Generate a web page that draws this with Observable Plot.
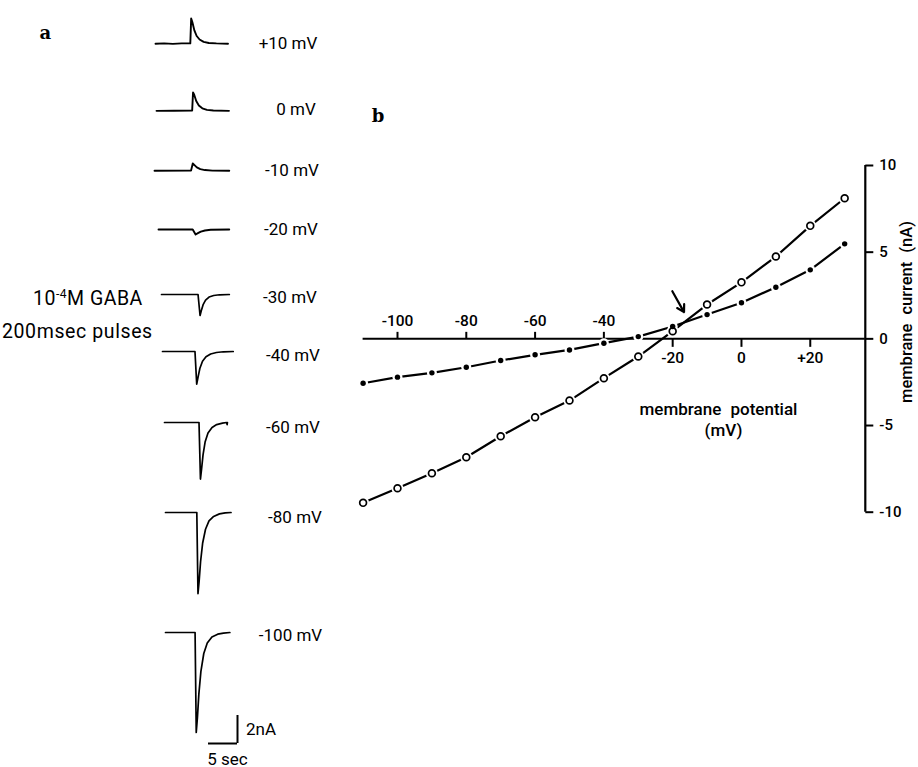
<!DOCTYPE html>
<html><head><meta charset="utf-8">
<script src="https://cdn.jsdelivr.net/npm/d3@7"></script>
<script src="https://cdn.jsdelivr.net/npm/@observablehq/plot@0.6"></script>
<style>
html,body{margin:0;padding:0;background:#fff;overflow:hidden}
#root{position:relative;width:918px;height:767px;background:#fff;font-family:Roboto,"DejaVu Sans",sans-serif;color:#000}
#root svg{position:absolute;max-width:none;background:transparent;overflow:visible}
.lbl{position:absolute;white-space:nowrap;line-height:1;font-size:17px}
.c{transform:translate(-50%,-50%)}
.l{transform:translate(0,-50%)}
.panel{font-family:"DejaVu Serif",serif;font-weight:bold;font-size:18px}
</style></head><body><div id="root"></div>
<script>
// ---------------- DATA ----------------
// panel b: I-V relation
const potential     = [-110, -100, -90, -80, -70, -60, -50, -40, -30, -20, -10, 0, 10, 20, 30];
const currentOpen   = [-9.46, -8.62, -7.75, -6.83, -5.62, -4.52, -3.56, -2.27, -1.02, 0.44, 1.98, 3.26, 4.75, 6.52, 8.11];
const currentFilled = [-2.56, -2.21, -1.96, -1.64, -1.25, -0.92, -0.64, -0.25, 0.13, 0.71, 1.40, 2.08, 2.98, 3.98, 5.48];
const xDomain = [-110, 36];
const yDomain = [-10, 10];
const xTicksAbove = [-100, -80, -60, -40];
const xTicksBelow = [-20, 0, 20];
const yTicks = [-10, -5, 0, 5, 10];
const arrowStart = {mV: -20.1, nA: 2.75};
const arrowEnd   = {mV: -16.7, nA: 1.54};
const xTitle = ["membrane potential", "(mV)"];
const yTitle = "membrane current (nA)";

// panel a: current traces [time s, current nA]
const traceLabels = ["+10 mV", "0 mV", "-10 mV", "-20 mV", "-30 mV", "-40 mV", "-60 mV", "-80 mV", "-100 mV"];
const traceP10  = [[0,0],[1.5,0.02],[3,-0.01],[4.5,0.02],[6.0,0.02],[6.15,1.8],[6.35,1.55],[6.7,0.95],[7.1,0.55],[7.6,0.3],[8.3,0.13],[9.2,0.05],[10.5,0.02],[12.5,0]];
const trace0    = [[0,0],[3,0.01],[6.15,0.02],[6.3,1.31],[6.5,1.15],[6.85,0.7],[7.3,0.38],[7.9,0.18],[8.7,0.07],[9.8,0.02],[12.5,0]];
const traceM10  = [[0,0],[6.3,0.01],[6.6,0.52],[6.9,0.4],[7.3,0.24],[7.9,0.12],[8.7,0.05],[10,0.01],[12.9,0]];
const traceM20  = [[0,0],[5.9,0],[6.4,-0.36],[6.8,-0.26],[7.3,-0.15],[8,-0.07],[9,-0.02],[12.2,0]];
const traceM30  = [[0,0],[6.3,0],[6.65,-1.5],[6.9,-1.1],[7.2,-0.7],[7.6,-0.4],[8.2,-0.18],[9,-0.07],[10,-0.02],[11.7,0]];
const traceM40  = [[0,0],[5.6,0],[5.9,-2.33],[6.15,-1.8],[6.45,-1.2],[6.9,-0.7],[7.5,-0.38],[8.3,-0.18],[9.3,-0.07],[10.5,-0.02],[12.2,0]];
const traceM60  = [[0,0],[5.95,0],[6.2,-4.04],[6.4,-3.3],[6.65,-2.3],[7,-1.4],[7.5,-0.75],[8.2,-0.35],[9,-0.15],[10,-0.05],[10.7,0],[10.8,-0.15],[10.85,0]];
const traceM80  = [[0,0],[5.4,0],[5.6,-5.79],[5.8,-4.9],[6.05,-3.5],[6.4,-2.2],[6.9,-1.2],[7.5,-0.6],[8.3,-0.28],[9.3,-0.1],[10.3,-0.03],[11.3,0]];
const traceM100 = [[0,0],[5.1,0],[5.3,-7.14],[5.5,-6.1],[5.75,-4.4],[6.1,-2.8],[6.6,-1.5],[7.2,-0.75],[8,-0.32],[9,-0.12],[10,-0.04],[11.1,0]];
const traces = [traceP10, trace0, traceM10, traceM20, traceM30, traceM40, traceM60, traceM80, traceM100];
const scaleBarSec = 5, scaleBarNA = 2;

// ---------------- LAYOUT ----------------
const layout = {
  traceLeft:     [155, 155.7, 154.3, 157.7, 160.7, 161.7, 164.3, 165, 165],
  traceBaseline: [43.3, 110, 170, 229, 294, 350.7, 421.7, 512.3, 631.7],
  labelX:        [288, 296, 292, 291, 290, 293, 293, 295, 290.5],
  labelY:        [42.5, 108.5, 170, 228.5, 297, 355, 426.7, 516.7, 635],
  pxPerSec: 5.8, pxPerNA: 14, pad: 4,
  scaleBar: {left: 208.3, bottom: 743.3}
};

const root = document.getElementById("root");
function place(el, left, top) { el.style.left = left + "px"; el.style.top = top + "px"; root.appendChild(el); return el; }
function label(text, x, y, cls, extra) {
  const d = document.createElement("div");
  d.className = "lbl " + cls;
  d.innerHTML = text;
  if (extra) Object.assign(d.style, extra);
  return place(d, x, y);
}

// ---------------- PANEL B ----------------
const tickUp = {draw(c) { c.moveTo(0, 0); c.lineTo(0, -7); }};
const tickDown = {draw(c) { c.moveTo(0, 0); c.lineTo(0, 8); }};
const tickRight = {draw(c) { c.moveTo(0, 0); c.lineTo(8, 0); }};
const openPts = potential.map((v, i) => ({mV: v, nA: currentOpen[i]}));
const filledPts = potential.map((v, i) => ({mV: v, nA: currentFilled[i]}));
const fmtX = d => (d > 0 ? "+" + d : String(d));
const fmtY = d => String(d);

const W = 918, H = 767;
const mL = 362.6, mR = W - 864.8, mT = 165, mB = H - 511.7;
const titleOpts = {frameAnchor: "top-left", textAnchor: "middle", lineAnchor: "middle", fontSize: 17, fontWeight: 500};
const chartB = Plot.plot({
  width: W, height: H,
  marginLeft: mL, marginRight: mR, marginTop: mT, marginBottom: mB,
  x: {domain: xDomain, axis: null},
  y: {domain: yDomain, axis: null},
  style: {fontFamily: "Roboto, 'DejaVu Sans', sans-serif", fontSize: "15px", color: "black", background: "transparent"},
  marks: [
    Plot.ruleY([0], {x1: xDomain[0], x2: xDomain[1], stroke: "black", strokeWidth: 2}),
    Plot.ruleX([xDomain[1]], {y1: yDomain[0], y2: yDomain[1], stroke: "black", strokeWidth: 2.2}),
    Plot.dot(xTicksAbove, {x: d => d, y: 0, symbol: tickUp, fill: "none", stroke: "black", strokeWidth: 2}),
    Plot.dot(xTicksBelow, {x: d => d, y: 0, symbol: tickDown, fill: "none", stroke: "black", strokeWidth: 2}),
    Plot.dot(yTicks, {x: xDomain[1], y: d => d, symbol: tickRight, fill: "none", stroke: "black", strokeWidth: 2}),
    Plot.text(xTicksAbove, {x: d => d, y: 0, text: fmtX, dy: -17.5, fontSize: 15.5, fontWeight: 500}),
    Plot.text(xTicksBelow, {x: d => d, y: 0, text: fmtX, dy: 19, fontSize: 15.5, fontWeight: 500}),
    Plot.text(yTicks, {x: xDomain[1], y: d => d, text: fmtY, dx: 14, textAnchor: "start", fontSize: 15, fontWeight: 500}),
    Plot.line(openPts, {x: "mV", y: "nA", stroke: "black", strokeWidth: 2.2}),
    Plot.line(filledPts, {x: "mV", y: "nA", stroke: "black", strokeWidth: 2.2}),
    Plot.dot(openPts, {x: "mV", y: "nA", r: 6, fill: "white"}),
    Plot.dot(filledPts, {x: "mV", y: "nA", r: 5, fill: "white"}),
    Plot.dot(openPts, {x: "mV", y: "nA", r: 3.4, fill: "white", stroke: "black", strokeWidth: 1.7}),
    Plot.dot(filledPts, {x: "mV", y: "nA", r: 2.7, fill: "black"}),
    Plot.arrow([{}], {x1: arrowStart.mV, y1: arrowStart.nA, x2: arrowEnd.mV, y2: arrowEnd.nA, stroke: "black", strokeWidth: 2.2, headLength: 9}),
    Plot.text([xTitle[0]], {...titleOpts, dx: 718 - mL, dy: 409 - mT}),
    Plot.text([xTitle[1]], {...titleOpts, dx: 723 - mL, dy: 430 - mT}),
    Plot.text([yTitle], {...titleOpts, dx: 906 - mL, dy: 311.5 - mT, rotate: -90, fontSize: 16.5})
  ]
});
chartB.querySelectorAll("text").forEach(t => { if (t.textContent === xTitle[0] || t.textContent === yTitle) t.style.wordSpacing = "5px"; });
place(chartB, 0, 0);

// ---------------- PANEL A ----------------
const P = layout.pad;
traces.forEach((tr, k) => {
  const dur = tr[tr.length - 1][0];
  const vals = tr.map(d => d[1]);
  const lo = Math.min(0, d3.min(vals)), hi = Math.max(0, d3.max(vals));
  const w = dur * layout.pxPerSec + 2 * P;
  const h = (hi - lo) * layout.pxPerNA + 2 * P;
  const svg = Plot.plot({
    width: w, height: h, margin: P,
    x: {domain: [0, dur], axis: null},
    y: {domain: [lo, hi], axis: null},
    style: {background: "transparent"},
    marks: [Plot.line(tr, {x: d => d[0], y: d => d[1], stroke: "black", strokeWidth: k < 4 ? 1.9 : 1.7, strokeLinejoin: "round", curve: "linear"})]
  });
  place(svg, layout.traceLeft[k] - P, layout.traceBaseline[k] - P - hi * layout.pxPerNA);
  label(traceLabels[k], layout.labelX[k], layout.labelY[k], "c");
});

// scale bar
{
  const w = scaleBarSec * layout.pxPerSec + 2 * P, h = scaleBarNA * layout.pxPerNA + 2 * P;
  const svg = Plot.plot({
    width: w, height: h, margin: P,
    x: {domain: [0, scaleBarSec], axis: null},
    y: {domain: [0, scaleBarNA], axis: null},
    style: {background: "transparent"},
    marks: [
      Plot.ruleY([0], {x1: 0, x2: scaleBarSec, stroke: "black", strokeWidth: 2}),
      Plot.ruleX([scaleBarSec], {y1: 0, y2: scaleBarNA, stroke: "black", strokeWidth: 2})
    ]
  });
  place(svg, layout.scaleBar.left - P, layout.scaleBar.bottom - h + P);
  label(scaleBarNA + "nA", 246, 729, "l");
  label(scaleBarSec + " sec", 227.5, 759, "c");
}

// other labels
label("a", 45.3, 33, "c panel");
label("b", 378, 116, "c panel");
label('10<sup style="font-size:0.62em;vertical-align:0.55em">-4</sup>M GABA', 33, 298, "l", {fontSize: "19.5px", letterSpacing: "0.5px"});
label("200msec pulses", 2, 331.5, "l", {fontSize: "19.5px", letterSpacing: "0.6px"});
</script></body></html>
